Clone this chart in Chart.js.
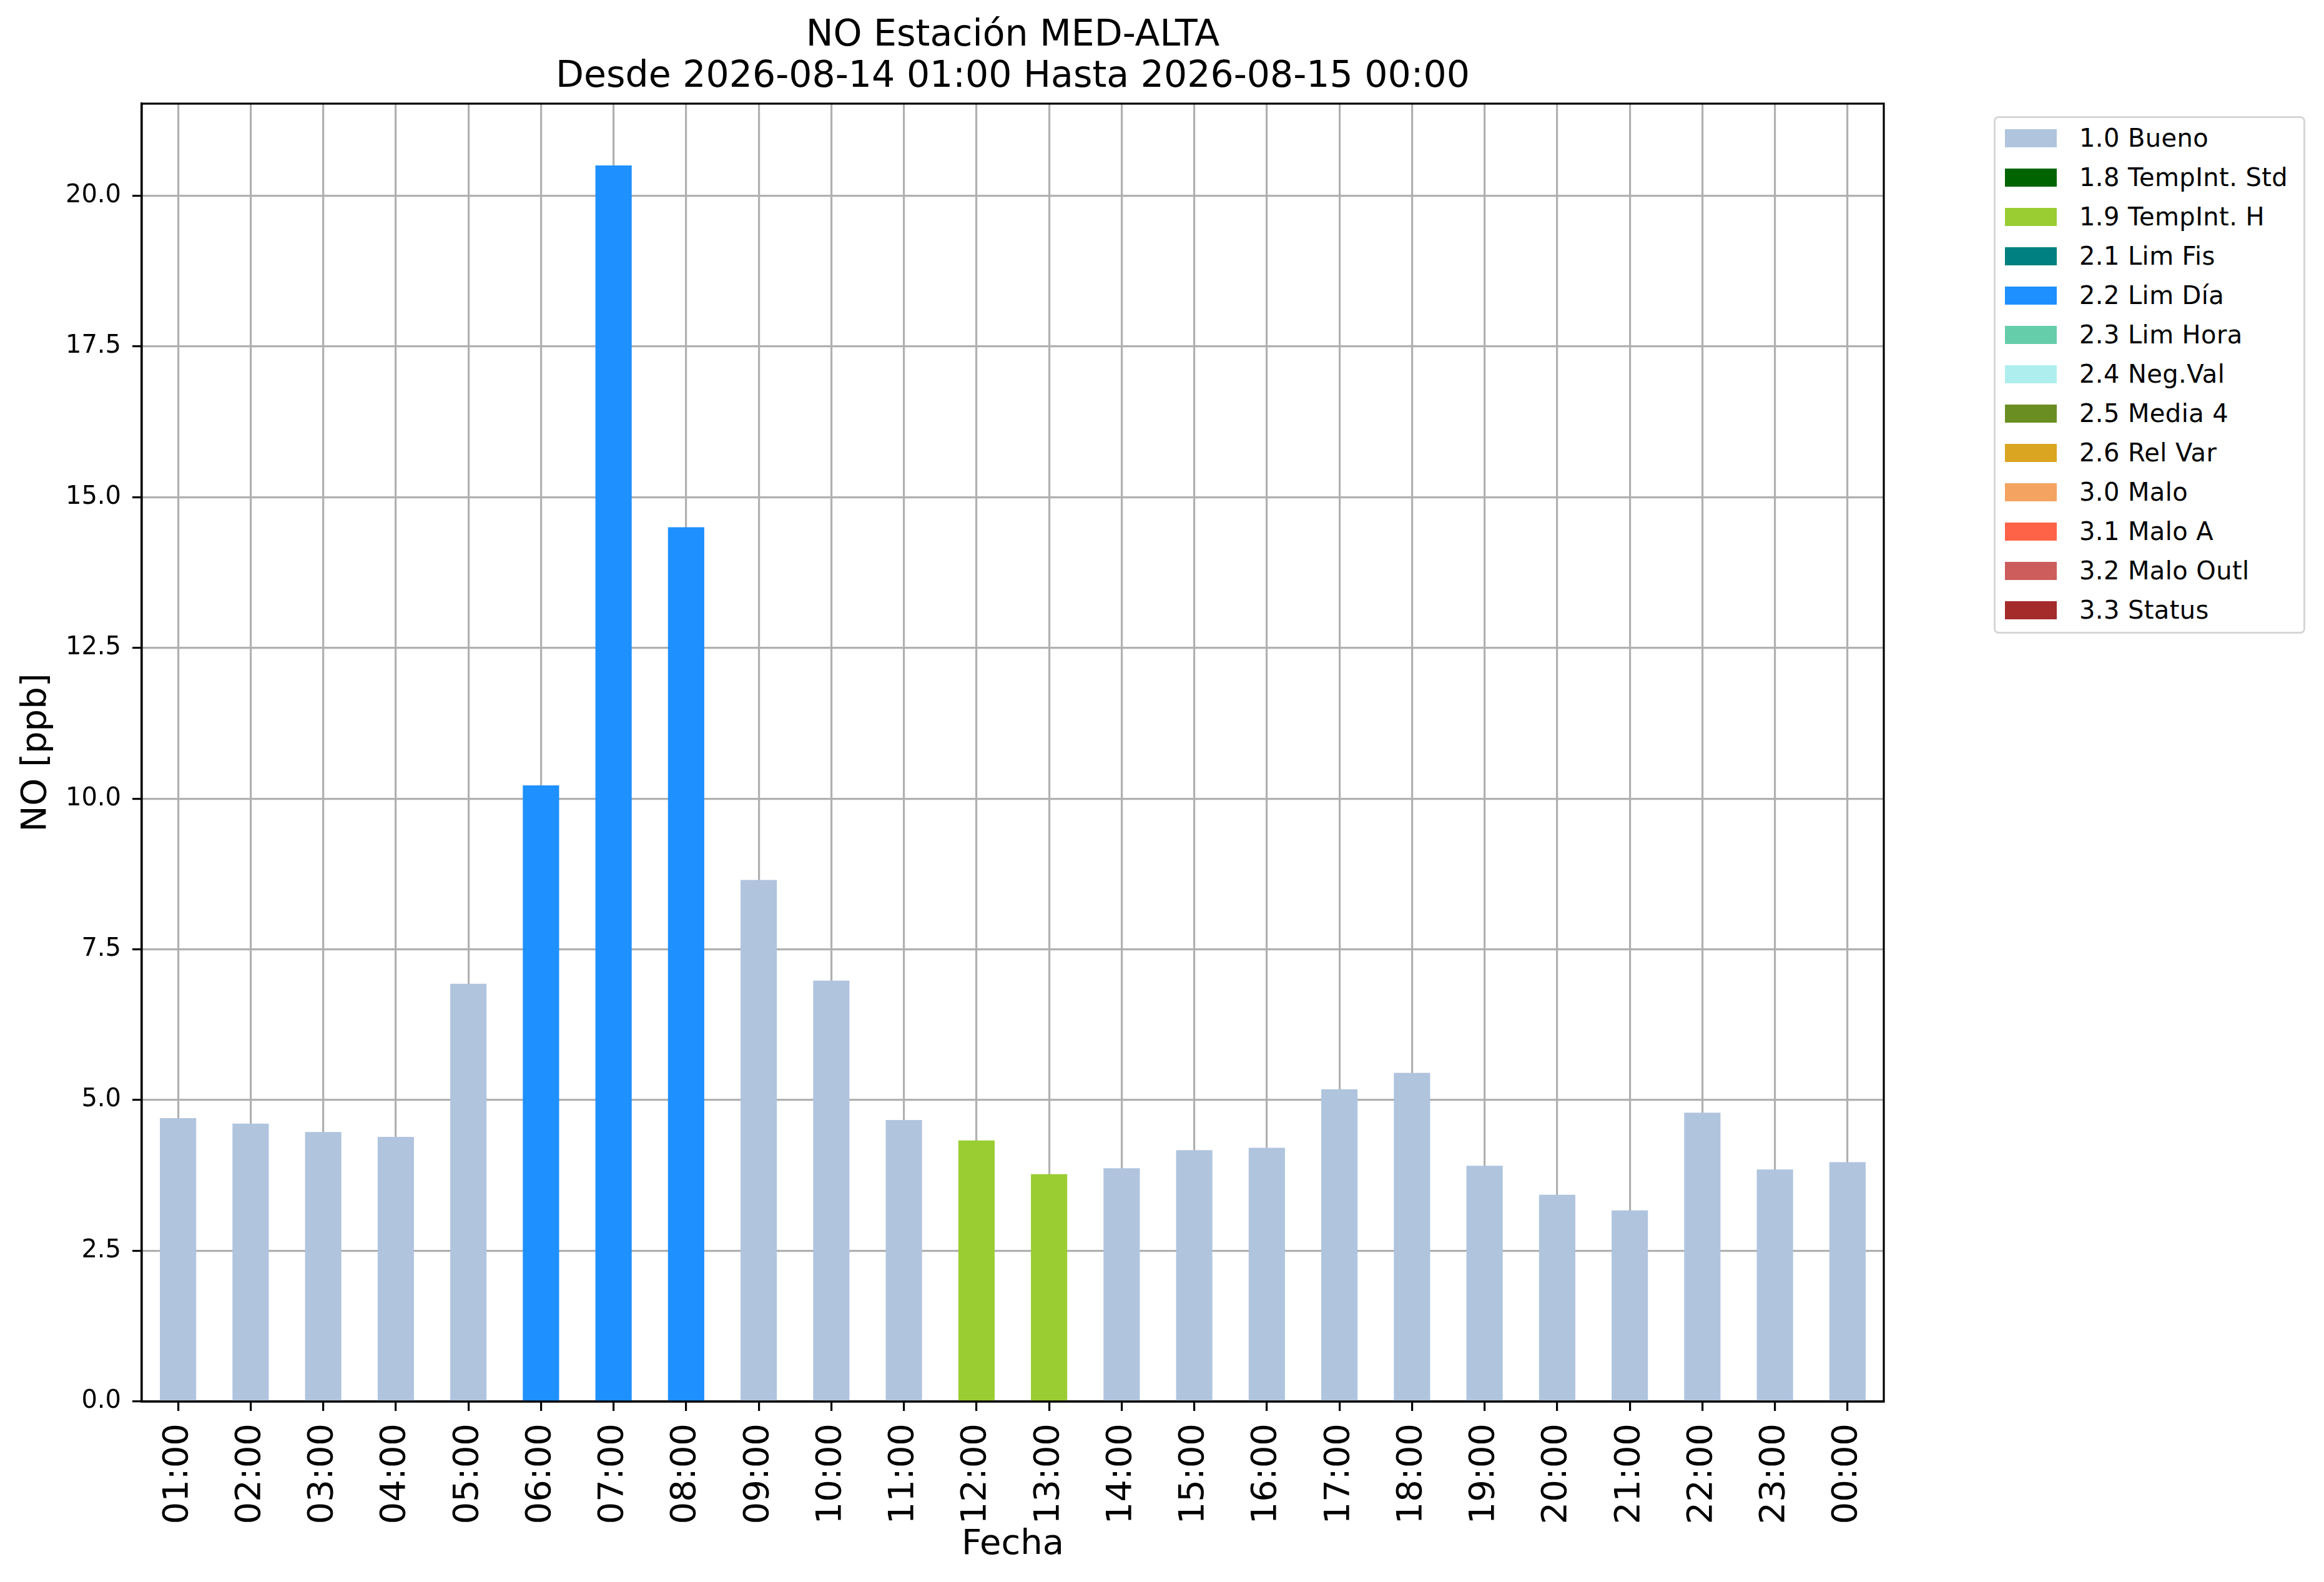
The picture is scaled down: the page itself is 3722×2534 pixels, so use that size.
<!DOCTYPE html>
<html lang="es">
  <head>
    <meta charset="UTF-8" />
    <title>NO Estación MED-ALTA</title>
    <script src="https://cdn.jsdelivr.net/npm/chart.js"></script>
    <style>
      body {
        margin: 0;
        background: #fff;
        font-family: 'DejaVu Sans', sans-serif;
      }
      .wrap {
        position: relative;
        width: 3722px;
        height: 2534px;
      }
      #legend {
        position: absolute;
        left: 3193px;
        top: 186px;
        width: 493px;
        height: 823px;
        border: 3px solid #d6d6d6;
        border-radius: 8px;
        background: #fff;
      }
      .row {
        position: absolute;
        left: 15px;
        height: 29px;
        display: flex;
        align-items: center;
        white-space: nowrap;
      }
      .swatch {
        width: 83px;
        height: 29px;
        margin-right: 36px;
      }
      .row span {
        font-size: 40px;
        line-height: 29px;
        letter-spacing: 0.4px;
        color: #000;
      }
    </style>
  </head>
  <body>
    <div class="wrap">
      <canvas id="chart"></canvas>
      <div id="legend"></div>
    </div>

    <script>
      // horas del dia (eje x)
      const hours = ['01:00', '02:00', '03:00', '04:00', '05:00', '06:00', '07:00', '08:00',
        '09:00', '10:00', '11:00', '12:00', '13:00', '14:00', '15:00', '16:00',
        '17:00', '18:00', '19:00', '20:00', '21:00', '22:00', '23:00', '00:00']

      // NO [ppb] por hora
      const values = [4.70, 4.61, 4.47, 4.39, 6.93, 10.22, 20.5, 14.5,
        8.65, 6.98, 4.67, 4.33, 3.77, 3.87, 4.17, 4.21,
        5.18, 5.45, 3.91, 3.43, 3.17, 4.79, 3.85, 3.97]

      // flag de validacion de cada hora
      const flags = ['1.0', '1.0', '1.0', '1.0', '1.0', '2.2', '2.2', '2.2',
        '1.0', '1.0', '1.0', '1.9', '1.9', '1.0', '1.0', '1.0',
        '1.0', '1.0', '1.0', '1.0', '1.0', '1.0', '1.0', '1.0']

      // flags posibles (leyenda)
      const flagCodes = ['1.0', '1.8', '1.9', '2.1', '2.2', '2.3', '2.4', '2.5', '2.6', '3.0', '3.1', '3.2', '3.3']
      const flagNames = ['1.0 Bueno', '1.8 TempInt. Std', '1.9 TempInt. H', '2.1 Lim Fis', '2.2 Lim Día',
        '2.3 Lim Hora', '2.4 Neg.Val', '2.5 Media 4', '2.6 Rel Var', '3.0 Malo', '3.1 Malo A',
        '3.2 Malo Outl', '3.3 Status']
      const flagColors = ['#b0c4de', '#006400', '#9acd32', '#008080', '#1e90ff', '#66cdaa', '#afeeee',
        '#6b8e23', '#daa520', '#f4a460', '#ff6347', '#cd5c5c', '#a52a2a']

      const yTicks = [0, 2.5, 5, 7.5, 10, 12.5, 15, 17.5, 20]
      const yMax = 21.525

      Chart.defaults.font.family = "'DejaVu Sans', sans-serif"
      Chart.defaults.color = '#000'

      // un dataset por flag, cada hora solo cae en el suyo
      const datasets = flagCodes.map((code, k) => ({
        label: flagNames[k],
        data: values.map((v, i) => (flags[i] === code ? v : null)),
        backgroundColor: flagColors[k],
        barPercentage: 0.5,
        categoryPercentage: 1.0,
        grouped: false,
      }))

      const gridStyle = {
        color: '#b0b0b0',
        lineWidth: 3.2,
        tickColor: '#000',
        tickWidth: 3.2,
        tickLength: 15,
      }

      const frame = {
        id: 'frame',
        afterLayout(chart) {
          // titulo centrado sobre los ejes
          const t = chart.titleBlock
          if (t) {
            t.left = chart.chartArea.left
            t.right = chart.chartArea.right
          }
        },
        afterDraw(chart) {
          const { ctx, chartArea: a } = chart
          ctx.save()
          ctx.strokeStyle = '#000'
          ctx.lineWidth = 3.2
          ctx.strokeRect(a.left, a.top, a.right - a.left, a.bottom - a.top)
          ctx.restore()
        },
      }

      const chart = new Chart(document.getElementById('chart'), {
        type: 'bar',
        data: { labels: hours, datasets: datasets },
        plugins: [frame],
        options: {
          responsive: true,
          maintainAspectRatio: false,
          animation: false,
          layout: { padding: { left: 0, top: 0, right: 705, bottom: 0 } },
          plugins: {
            legend: { display: false },
            tooltip: { enabled: false },
            title: {
              display: true,
              text: ['NO Estación MED-ALTA', 'Desde 2026-08-14 01:00 Hasta 2026-08-15 00:00'],
              color: '#000',
              font: { size: 58.5, weight: 'normal', lineHeight: 66 / 58.5 },
              padding: { top: 25, bottom: 9 },
            },
          },
          scales: {
            x: {
              offset: true,
              z: 1,
              grid: { ...gridStyle, offset: false },
              border: { color: '#000', width: 3.2 },
              ticks: { autoSkip: false, minRotation: 90, maxRotation: 90, padding: 20, font: { size: 56 } },
              title: { display: true, text: 'Fecha', font: { size: 56 }, padding: { top: 0, bottom: 26 } },
              afterFit(s) {
                s.height = 289
              },
            },
            y: {
              min: 0,
              max: yMax,
              z: 1,
              grid: gridStyle,
              border: { color: '#000', width: 3.2 },
              afterBuildTicks(s) {
                s.ticks = yTicks.map((v) => ({ value: v }))
              },
              ticks: { padding: 18, font: { size: 40 }, callback: (v) => Number(v).toFixed(1) },
              title: { display: true, text: 'NO [ppb]', font: { size: 56 }, padding: { top: 25, bottom: 0 } },
              afterFit(s) {
                s.width = 227
              },
            },
          },
        },
      })

      // leyenda en html, a partir de los datasets
      const legend = document.getElementById('legend')
      chart.data.datasets.forEach((ds, i) => {
        const row = document.createElement('div')
        row.className = 'row'
        row.style.top = 18 + i * 63 + 'px'
        row.innerHTML = `<div class="swatch" style="background:${ds.backgroundColor}"></div><span>${ds.label}</span>`
        legend.appendChild(row)
      })
    </script>
  </body>
</html>
